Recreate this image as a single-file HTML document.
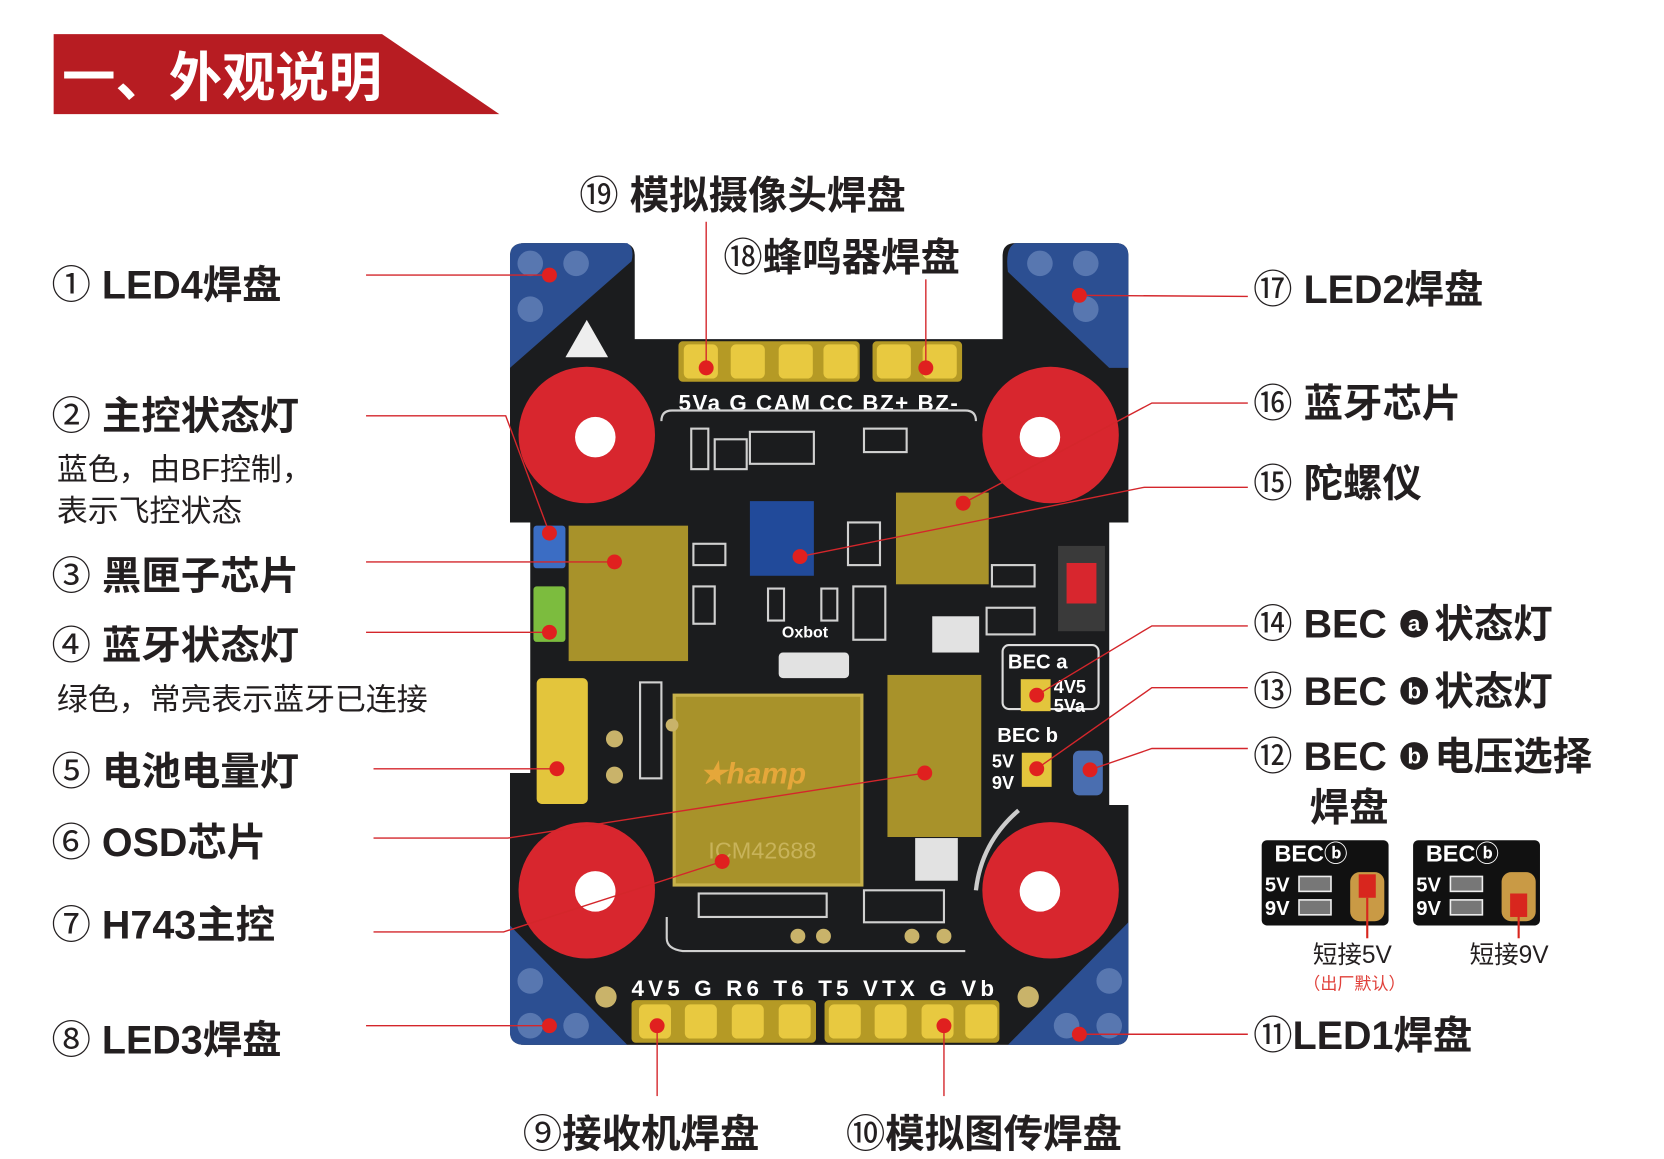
<!DOCTYPE html>
<html><head><meta charset="utf-8"><style>
html,body{margin:0;padding:0;background:#fff;width:1664px;height:1159px;overflow:hidden}
svg{display:block}
.t{font-family:"Liberation Sans","Noto Sans CJK SC",sans-serif;fill:#231f20}
.b{font-weight:bold}
.s{font-family:"Liberation Sans","Noto Sans CJK SC",sans-serif;fill:#fff;font-weight:bold}
</style></head><body>
<svg width="1664" height="1159" viewBox="0 0 1560 1087" xmlns="http://www.w3.org/2000/svg">
<polygon points="50,32 358,32 468,107 50,107" fill="#b71c22"/>
<text x="58" y="90" class="t b" style="fill:#fff" font-size="50">一、外观说明</text>

<path d="M492,228 H583 Q595,228 595,240 V318 H940 V240 Q940,228 952,228 H1046 Q1058,228 1058,240 V490 H1040 V755 H1058 V968 Q1058,980 1046,980 H492 Q478,980 478,968 V725 H497 V490 H478 V240 Q478,228 492,228 Z" fill="#1b1c1e"/>
<path d="M492,228 H588 Q595,232 592,245 L478,345 V240 Q478,228 492,228Z" fill="#2c4f92"/>
<path d="M952,228 H1046 Q1058,228 1058,240 V345 H1040 L945,255 Q942,232 952,228Z" fill="#2c4f92"/>
<path d="M478,868 L588,980 H492 Q478,980 478,968Z" fill="#2c4f92"/>
<path d="M1058,865 V968 Q1058,980 1046,980 H945 Z" fill="#2c4f92"/>
<g fill="#5877b0">
<circle cx="497" cy="247" r="12"/><circle cx="540" cy="247" r="12"/><circle cx="497" cy="290" r="12"/>
<circle cx="975" cy="247" r="12"/><circle cx="1018" cy="247" r="12"/><circle cx="1018" cy="290" r="12"/>
<circle cx="497" cy="920" r="12"/><circle cx="497" cy="962" r="12"/><circle cx="540" cy="962" r="12"/>
<circle cx="1040" cy="920" r="12"/><circle cx="1040" cy="962" r="12"/><circle cx="1000" cy="962" r="12"/>
</g>
<polygon points="550,300 570,335 530,335" fill="#eee"/>
<g fill="#d8262e"><circle cx="550" cy="408" r="64"/><circle cx="985" cy="408" r="64"/><circle cx="550" cy="835" r="64"/><circle cx="985" cy="835" r="64"/></g>
<g fill="#fff"><circle cx="558" cy="410" r="19"/><circle cx="975" cy="410" r="19"/><circle cx="558" cy="836" r="19"/><circle cx="975" cy="836" r="19"/></g>
<rect x="636" y="320" width="170" height="38" rx="4" fill="#b59a25"/>
<rect x="818" y="320" width="84" height="38" rx="4" fill="#b59a25"/>
<g fill="#e8c940"><rect x="641" y="323" width="32" height="32" rx="5"/><rect x="685" y="323" width="32" height="32" rx="5"/><rect x="730" y="323" width="32" height="32" rx="5"/><rect x="772" y="323" width="32" height="32" rx="5"/><rect x="822" y="323" width="32" height="32" rx="5"/><rect x="865" y="323" width="32" height="32" rx="5"/></g>
<text x="636" y="385" class="s" font-size="21" textLength="262" lengthAdjust="spacing">5Va  G  CAM  CC  BZ+ BZ-</text>
<rect x="592" y="938" width="173" height="40" rx="4" fill="#b59a25"/>
<rect x="773" y="938" width="164" height="40" rx="4" fill="#b59a25"/>
<g fill="#e8c940"><rect x="599" y="942" width="30" height="32" rx="5"/><rect x="642" y="942" width="30" height="32" rx="5"/><rect x="686" y="942" width="30" height="32" rx="5"/><rect x="730" y="942" width="30" height="32" rx="5"/><rect x="777" y="942" width="30" height="32" rx="5"/><rect x="820" y="942" width="30" height="32" rx="5"/><rect x="864" y="942" width="30" height="32" rx="5"/><rect x="905" y="942" width="30" height="32" rx="5"/></g>
<text x="592" y="934" class="s" font-size="21" textLength="340" lengthAdjust="spacing">4V5 G R6 T6 T5 VTX G Vb</text>
<rect x="533" y="493" width="112" height="127" fill="#a8922a"/>
<rect x="703" y="470" width="60" height="70" fill="#214a9a"/>
<rect x="840" y="462" width="87" height="86" fill="#a8922a"/>
<rect x="632" y="652" width="176" height="178" fill="#a8922a" stroke="#c7b14a" stroke-width="3"/>
<rect x="832" y="633" width="88" height="152" fill="#a8922a"/>
<text x="656" y="735" font-family="Liberation Sans" font-weight="bold" font-style="italic" font-size="28" fill="#e5a73a">★hamp</text>
<text x="664" y="805" font-family="Liberation Sans" font-size="22" fill="#c8b35a">ICM42688</text>
<text x="733" y="598" class="s" font-size="15">Oxbot</text>
<g fill="#e2e2e2"><rect x="730" y="612" width="66" height="24" rx="4"/><rect x="874" y="578" width="44" height="34"/><rect x="858" y="786" width="40" height="40"/></g>
<rect x="992" y="512" width="44" height="80" fill="#3a3a3a"/><rect x="1000" y="528" width="28" height="38" fill="#d8262e"/>
<rect x="500" y="493" width="30" height="40" rx="3" fill="#3b6dc4"/>
<rect x="500" y="550" width="30" height="52" rx="3" fill="#7cbc3e"/>
<rect x="503" y="636" width="48" height="118" rx="5" fill="#e3c53c"/>
<g fill="#c9b36a"><circle cx="576" cy="693" r="8"/><circle cx="576" cy="727" r="8"/><circle cx="630" cy="680" r="6"/><circle cx="772" cy="878" r="7"/><circle cx="748" cy="878" r="7"/><circle cx="855" cy="878" r="7"/><circle cx="885" cy="878" r="7"/><circle cx="568" cy="935" r="10"/><circle cx="964" cy="935" r="10"/></g>
<g fill="none" stroke="#d0d0d0" stroke-width="2"><rect x="648" y="402" width="16" height="38"/><rect x="670" y="412" width="30" height="28"/><rect x="703" y="405" width="60" height="30"/><rect x="810" y="402" width="40" height="22"/><rect x="650" y="510" width="30" height="20"/><rect x="795" y="490" width="30" height="40"/><rect x="650" y="550" width="20" height="35"/><rect x="720" y="552" width="15" height="30"/><rect x="770" y="552" width="15" height="30"/><rect x="800" y="550" width="30" height="50"/><rect x="930" y="530" width="40" height="20"/><rect x="925" y="570" width="45" height="25"/><rect x="600" y="640" width="20" height="90"/><rect x="655" y="838" width="120" height="22"/><rect x="810" y="835" width="75" height="30"/><path d="M625,860 V880 Q625,890 640,892 H905"/><path d="M620,395 Q620,385 630,385 H905 Q915,385 915,395"/></g>
<rect x="940" y="605" width="90" height="60" rx="6" fill="none" stroke="#ddd" stroke-width="2"/>
<text x="945" y="627" class="s" font-size="19">BEC a</text>
<text x="988" y="650" class="s" font-size="17">4V5</text><text x="988" y="668" class="s" font-size="17">5Va</text>
<rect x="957" y="637" width="28" height="30" fill="#e3c53c"/>
<text x="935" y="696" class="s" font-size="19">BEC b</text>
<text x="930" y="720" class="s" font-size="17">5V</text><text x="930" y="740" class="s" font-size="17">9V</text>
<rect x="958" y="706" width="28" height="32" fill="#e3c53c"/>
<rect x="1006" y="704" width="28" height="42" rx="6" fill="#4a6eb0"/>
<path d="M915,835 Q920,790 955,760" fill="none" stroke="#ccc" stroke-width="4"/>

<g fill="none" stroke="#d4262b" stroke-width="1.3">
<polyline points="343,258 515,258"/>
<polyline points="343,390 474,390 515,500"/>
<polyline points="343,527 576,527"/>
<polyline points="343,593 515,593"/>
<polyline points="350,721 522,721"/>
<polyline points="350,786 476,786 867,725"/>
<polyline points="350,874 472,874 677,808"/>
<polyline points="343,962 515,962"/>
<polyline points="616,962 616,1028"/>
<polyline points="885,962 885,1028"/>
<polyline points="1170,970 1012,970"/>
<polyline points="1170,702 1080,702 1022,722"/>
<polyline points="1170,645 1080,645 972,721"/>
<polyline points="1170,587 1080,587 972,652"/>
<polyline points="1170,457 1073,457 750,522"/>
<polyline points="1170,378 1080,378 903,472"/>
<polyline points="1170,278 1012,277"/>
<polyline points="868,262 868,345"/>
<polyline points="662,208 662,345"/>
</g>
<g fill="#e0201f">
<circle cx="515" cy="258" r="7"/><circle cx="515" cy="500" r="7"/><circle cx="576" cy="527" r="7"/><circle cx="515" cy="593" r="7"/><circle cx="522" cy="721" r="7"/><circle cx="867" cy="725" r="7"/><circle cx="677" cy="808" r="7"/><circle cx="515" cy="962" r="7"/><circle cx="616" cy="962" r="7"/><circle cx="885" cy="962" r="7"/><circle cx="1012" cy="970" r="7"/><circle cx="1022" cy="722" r="7"/><circle cx="972" cy="721" r="7"/><circle cx="972" cy="652" r="7"/><circle cx="750" cy="522" r="7"/><circle cx="903" cy="472" r="7"/><circle cx="1012" cy="277" r="7"/><circle cx="868" cy="345" r="7"/><circle cx="662" cy="345" r="7"/>
</g>

<g class="t b" font-size="37">
<text x="48" y="280"><tspan font-weight="normal">①</tspan> LED4焊盘</text>
<text x="48" y="403"><tspan font-weight="normal">②</tspan> 主控状态灯</text>
<text x="48" y="553"><tspan font-weight="normal">③</tspan> 黑匣子芯片</text>
<text x="48" y="618"><tspan font-weight="normal">④</tspan> 蓝牙状态灯</text>
<text x="48" y="736"><tspan font-weight="normal">⑤</tspan> 电池电量灯</text>
<text x="48" y="803"><tspan font-weight="normal">⑥</tspan> OSD芯片</text>
<text x="48" y="880"><tspan font-weight="normal">⑦</tspan> H743主控</text>
<text x="48" y="988"><tspan font-weight="normal">⑧</tspan> LED3焊盘</text>
</g>
<g class="t" font-size="29">
<text x="53" y="450">蓝色，由BF控制，</text>
<text x="53" y="489">表示飞控状态</text>
<text x="53" y="666">绿色，常亮表示蓝牙已连接</text>
</g>
<g class="t b" font-size="37">
<text x="1175" y="284"><tspan font-weight="normal">⑰</tspan> LED2焊盘</text>
<text x="1175" y="391"><tspan font-weight="normal">⑯</tspan> 蓝牙芯片</text>
<text x="1175" y="466"><tspan font-weight="normal">⑮</tspan> 陀螺仪</text>
<text x="1175" y="598"><tspan font-weight="normal">⑭</tspan> BEC</text>
<text x="1345" y="598">状态灯</text>
<text x="1175" y="661"><tspan font-weight="normal">⑬</tspan> BEC</text>
<text x="1345" y="661">状态灯</text>
<text x="1175" y="722"><tspan font-weight="normal">⑫</tspan> BEC</text>
<text x="1345" y="722">电压选择</text>
<text x="1228" y="770">焊盘</text>
<text x="1175" y="984"><tspan font-weight="normal">⑪</tspan>LED1焊盘</text>
<text x="543" y="196"><tspan font-weight="normal">⑲</tspan> 模拟摄像头焊盘</text>
<text x="678" y="254"><tspan font-weight="normal">⑱</tspan>蜂鸣器焊盘</text>
<text x="490" y="1076"><tspan font-weight="normal">⑨</tspan>接收机焊盘</text>
<text x="793" y="1076"><tspan font-weight="normal">⑩</tspan>模拟图传焊盘</text>
</g>
<g fill="#231f20"><circle cx="1326" cy="585" r="13"/><circle cx="1326" cy="648" r="13"/><circle cx="1326" cy="709" r="13"/></g>
<g class="s" font-size="21" text-anchor="middle"><text x="1326" y="592">a</text><text x="1326" y="655">b</text><text x="1326" y="716">b</text></g>
<g>
<rect x="1183" y="788" width="119" height="80" rx="5" fill="#111"/>
<rect x="1325" y="788" width="119" height="80" rx="5" fill="#111"/>
<text x="1195" y="808" class="s" font-size="22">BECⓑ</text>
<text x="1337" y="808" class="s" font-size="22">BECⓑ</text>
<text x="1186" y="836" class="s" font-size="19">5V</text><text x="1186" y="858" class="s" font-size="19">9V</text>
<text x="1328" y="836" class="s" font-size="19">5V</text><text x="1328" y="858" class="s" font-size="19">9V</text>
<g fill="#777" stroke="#eee" stroke-width="1.5"><rect x="1218" y="822" width="30" height="14"/><rect x="1218" y="844" width="30" height="14"/><rect x="1360" y="822" width="30" height="14"/><rect x="1360" y="844" width="30" height="14"/></g>
<rect x="1266" y="818" width="32" height="46" rx="9" fill="#c99a45"/><rect x="1408" y="818" width="32" height="46" rx="9" fill="#c99a45"/>
<rect x="1274" y="820" width="16" height="22" fill="#d8261e"/><rect x="1416" y="838" width="16" height="22" fill="#d8261e"/>
<line x1="1282" y1="842" x2="1282" y2="880" stroke="#d8261e" stroke-width="2"/>
<line x1="1424" y1="860" x2="1424" y2="880" stroke="#d8261e" stroke-width="2"/>
<text x="1231" y="903" class="t" font-size="23">短接5V</text>
<text x="1378" y="903" class="t" font-size="23">短接9V</text>
<text x="1222" y="928" font-family="Liberation Sans,Noto Sans CJK SC,sans-serif" font-size="16" fill="#e0403a">（出厂默认）</text>
</g>
</svg>
</body></html>
